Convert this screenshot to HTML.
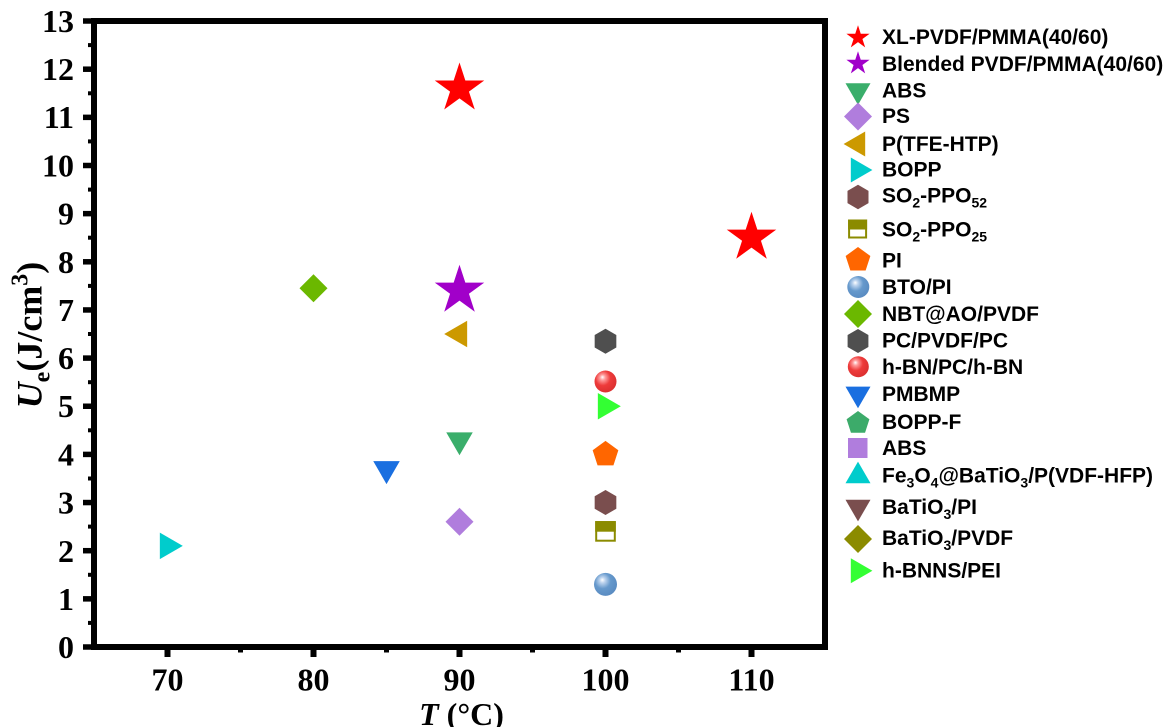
<!DOCTYPE html>
<html><head><meta charset="utf-8"><style>
html,body{margin:0;padding:0;background:#fff;}
svg{display:block;}
.ax{font-family:"Liberation Serif",serif;font-weight:bold;fill:#000;}
.lg{font-family:"Liberation Sans",Arial,sans-serif;font-weight:bold;font-size:21px;fill:#000;}
</style></head><body>
<svg width="1163" height="727" viewBox="0 0 1163 727" xmlns="http://www.w3.org/2000/svg">
<defs>
<radialGradient id="gr" cx="0.4" cy="0.38" r="0.62" fx="0.36" fy="0.3">
<stop offset="0" stop-color="#ffffff"/><stop offset="0.2" stop-color="#ff9c9c"/><stop offset="0.55" stop-color="#ee3b3b"/><stop offset="1" stop-color="#dc3030"/>
</radialGradient>
<radialGradient id="gb" cx="0.4" cy="0.38" r="0.62" fx="0.36" fy="0.3">
<stop offset="0" stop-color="#ffffff"/><stop offset="0.2" stop-color="#bcd3ee"/><stop offset="0.55" stop-color="#6699cc"/><stop offset="1" stop-color="#5a8cc2"/>
</radialGradient>
</defs>

<!-- ticks left -->
<g stroke="#000" stroke-width="5.5">
<line x1="83" y1="647" x2="92" y2="647"/><line x1="83" y1="598.85" x2="92" y2="598.85"/>
<line x1="83" y1="550.7" x2="92" y2="550.7"/><line x1="83" y1="502.55" x2="92" y2="502.55"/>
<line x1="83" y1="454.4" x2="92" y2="454.4"/><line x1="83" y1="406.25" x2="92" y2="406.25"/>
<line x1="83" y1="358.1" x2="92" y2="358.1"/><line x1="83" y1="309.95" x2="92" y2="309.95"/>
<line x1="83" y1="261.8" x2="92" y2="261.8"/><line x1="83" y1="213.65" x2="92" y2="213.65"/>
<line x1="83" y1="165.5" x2="92" y2="165.5"/><line x1="83" y1="117.35" x2="92" y2="117.35"/>
<line x1="83" y1="69.2" x2="92" y2="69.2"/><line x1="83" y1="21" x2="92" y2="21"/>
</g>
<g stroke="#000" stroke-width="4">
<line x1="88" y1="622.9" x2="92" y2="622.9"/><line x1="88" y1="574.8" x2="92" y2="574.8"/>
<line x1="88" y1="526.6" x2="92" y2="526.6"/><line x1="88" y1="478.5" x2="92" y2="478.5"/>
<line x1="88" y1="430.3" x2="92" y2="430.3"/><line x1="88" y1="382.2" x2="92" y2="382.2"/>
<line x1="88" y1="334" x2="92" y2="334"/><line x1="88" y1="285.9" x2="92" y2="285.9"/>
<line x1="88" y1="237.7" x2="92" y2="237.7"/><line x1="88" y1="189.6" x2="92" y2="189.6"/>
<line x1="88" y1="141.4" x2="92" y2="141.4"/><line x1="88" y1="93.3" x2="92" y2="93.3"/>
<line x1="88" y1="45.1" x2="92" y2="45.1"/>
</g>
<!-- ticks bottom -->
<g stroke="#000" stroke-width="6">
<line x1="167.5" y1="648" x2="167.5" y2="657"/><line x1="313.5" y1="648" x2="313.5" y2="657"/>
<line x1="459.5" y1="648" x2="459.5" y2="657"/><line x1="605.5" y1="648" x2="605.5" y2="657"/>
<line x1="751.5" y1="648" x2="751.5" y2="657"/>
</g>
<g stroke="#000" stroke-width="5">
<line x1="240.5" y1="648" x2="240.5" y2="652.5"/><line x1="386.5" y1="648" x2="386.5" y2="652.5"/>
<line x1="532.5" y1="648" x2="532.5" y2="652.5"/><line x1="678.5" y1="648" x2="678.5" y2="652.5"/>
</g>
<!-- spines -->
<rect x="94" y="21" width="731" height="626" fill="none" stroke="#000" stroke-width="6"/>

<!-- y tick labels -->
<g class="ax" font-size="32" text-anchor="end">
<text x="74" y="658">0</text><text x="74" y="610">1</text><text x="74" y="562">2</text>
<text x="74" y="513.5">3</text><text x="74" y="465.5">4</text><text x="74" y="417">5</text>
<text x="74" y="369">6</text><text x="74" y="321">7</text><text x="74" y="273">8</text>
<text x="74" y="224.5">9</text><text x="74" y="176.5">10</text><text x="74" y="128">11</text>
<text x="74" y="80">12</text><text x="74" y="32">13</text>
</g>
<!-- x tick labels -->
<g class="ax" font-size="32" text-anchor="middle">
<text x="167.5" y="690.5">70</text><text x="313.5" y="690.5">80</text><text x="459.5" y="690.5">90</text>
<text x="605.5" y="690.5">100</text><text x="751.5" y="690.5">110</text>
</g>
<!-- axis titles -->
<text class="ax" font-size="32" text-anchor="middle" x="461.5" y="725"><tspan font-style="italic">T</tspan> (°C)</text>
<text class="ax" font-size="36" text-anchor="middle" transform="translate(41.5,335) rotate(-90)"><tspan font-style="italic">U</tspan><tspan font-size="24" dy="8">e</tspan><tspan dy="-8">(J/cm</tspan><tspan font-size="24" dy="-14">3</tspan><tspan dy="14">)</tspan></text>

<!-- data markers -->
<!-- stars -->
<path transform="translate(459.5,88.5)" fill="#ff0000" d="M0,-26 L5.84,-8.03 L24.73,-8.03 L9.44,3.07 L15.29,21.03 L0,9.93 L-15.29,21.03 L-9.44,3.07 L-24.73,-8.03 L-5.84,-8.03Z"/>
<path transform="translate(751.5,237.7)" fill="#ff0000" d="M0,-26 L5.84,-8.03 L24.73,-8.03 L9.44,3.07 L15.29,21.03 L0,9.93 L-15.29,21.03 L-9.44,3.07 L-24.73,-8.03 L-5.84,-8.03Z"/>
<path transform="translate(459.5,290.7)" fill="#a100c9" d="M0,-26 L5.84,-8.03 L24.73,-8.03 L9.44,3.07 L15.29,21.03 L0,9.93 L-15.29,21.03 L-9.44,3.07 L-24.73,-8.03 L-5.84,-8.03Z"/>
<!-- NBT diamond -->
<path transform="translate(313.5,288.3)" fill="#6bb800" d="M0,-14 L14,0 L0,14 L-14,0Z"/>
<!-- P(TFE-HTP) left tri -->
<path transform="translate(459.5,334)" fill="#cc9900" d="M-15.3,0 L7.65,-13.25 L7.65,13.25Z"/>
<!-- ABS green down tri -->
<path transform="translate(459.5,440)" fill="#3aae6b" d="M-13.25,-7.65 L13.25,-7.65 L0,15.3Z"/>
<!-- PMBMP -->
<path transform="translate(386.5,468.8)" fill="#1a6fe0" d="M-13.25,-7.65 L13.25,-7.65 L0,15.3Z"/>
<!-- PS diamond -->
<path transform="translate(459.5,521.8)" fill="#b07ddd" d="M0,-14 L14,0 L0,14 L-14,0Z"/>
<!-- BOPP right tri -->
<path transform="translate(167.5,545.9)" fill="#00cccc" d="M15.3,0 L-7.65,-13.25 L-7.65,13.25Z"/>
<!-- column 100 -->
<path transform="translate(605.5,341.2)" fill="#4f4f4f" d="M0,-12.5 L10.83,-6.25 L10.83,6.25 L0,12.5 L-10.83,6.25 L-10.83,-6.25Z"/>
<circle cx="605.5" cy="381.5" r="11" fill="url(#gr)"/>
<path transform="translate(605.5,406.2)" fill="#33ff33" d="M15.3,0 L-7.65,-13.25 L-7.65,13.25Z"/>
<path transform="translate(605.5,454.4)" fill="#ff6600" d="M0,-13.5 L12.84,-4.17 L7.94,10.92 L-7.94,10.92 L-12.84,-4.17Z"/>
<path transform="translate(605.5,502.5)" fill="#7a4e4e" d="M0,-12.5 L10.83,-6.25 L10.83,6.25 L0,12.5 L-10.83,6.25 L-10.83,-6.25Z"/>
<g transform="translate(605.5,531.4)">
<rect x="-9.3" y="-9.3" width="18.6" height="18.6" fill="#fff" stroke="#8b8b00" stroke-width="2"/>
<rect x="-10.3" y="-10.3" width="20.6" height="10.6" fill="#8b8b00"/>
</g>
<circle cx="605.5" cy="584.4" r="11.5" fill="url(#gb)"/>

<!-- legend markers -->
<path transform="translate(858,37.5)" fill="#ff0000" d="M0,-12.2 L2.74,-3.77 L11.6,-3.77 L4.43,1.44 L7.17,9.87 L0,4.66 L-7.17,9.87 L-4.43,1.44 L-11.6,-3.77 L-2.74,-3.77Z"/>
<path transform="translate(858,63.5)" fill="#a100c9" d="M0,-12.2 L2.74,-3.77 L11.6,-3.77 L4.43,1.44 L7.17,9.87 L0,4.66 L-7.17,9.87 L-4.43,1.44 L-11.6,-3.77 L-2.74,-3.77Z"/>
<path transform="translate(858,90.5)" fill="#3aae6b" d="M-12.5,-7.2 L12.5,-7.2 L0,14.4Z"/>
<path transform="translate(858,116.5)" fill="#b07ddd" d="M0,-14 L14,0 L0,14 L-14,0Z"/>
<path transform="translate(858,144)" fill="#cc9900" d="M-14.4,0 L7.2,-12.5 L7.2,12.5Z"/>
<path transform="translate(858,170)" fill="#00cccc" d="M14.4,0 L-7.2,-12.5 L-7.2,12.5Z"/>
<path transform="translate(858,197)" fill="#7a4e4e" d="M0,-12.2 L10.5,-6.1 L10.5,6.1 L0,12.2 L-10.5,6.1 L-10.5,-6.1Z"/>
<g transform="translate(857.6,229)">
<rect x="-8.5" y="-8.5" width="17" height="17" fill="#fff" stroke="#8b8b00" stroke-width="2"/>
<rect x="-9.5" y="-9.5" width="19" height="10" fill="#8b8b00"/>
</g>
<path transform="translate(858,260)" fill="#ff6600" d="M0,-13 L12.36,-4.02 L7.64,10.52 L-7.64,10.52 L-12.36,-4.02Z"/>
<circle cx="858.3" cy="287" r="11" fill="url(#gb)"/>
<path transform="translate(858,314)" fill="#6bb800" d="M0,-14 L14,0 L0,14 L-14,0Z"/>
<path transform="translate(858,341)" fill="#4f4f4f" d="M0,-12 L10.4,-6 L10.4,6 L0,12 L-10.4,6 L-10.4,-6Z"/>
<circle cx="858.3" cy="366.7" r="10.5" fill="url(#gr)"/>
<path transform="translate(858,393.8)" fill="#1a6fe0" d="M-12.5,-7.2 L12.5,-7.2 L0,14.4Z"/>
<path transform="translate(858,423)" fill="#3cab6a" d="M0,-12 L11.4,-3.7 L7.05,9.7 L-7.05,9.7 L-11.4,-3.7Z"/>
<rect x="848" y="438" width="19.5" height="20" fill="#b07ddd"/>
<path transform="translate(858,476)" fill="#00cccc" d="M0,-14.4 L12.5,7.2 L-12.5,7.2Z"/>
<path transform="translate(858,507)" fill="#7a4e4e" d="M-12.5,-7.2 L12.5,-7.2 L0,14.4Z"/>
<path transform="translate(858,539)" fill="#8b8b00" d="M0,-14 L14,0 L0,14 L-14,0Z"/>
<path transform="translate(858,570.8)" fill="#33ff33" d="M14.4,0 L-7.2,-12.5 L-7.2,12.5Z"/>

<!-- legend text -->
<g class="lg">
<text x="882" y="44.2">XL-PVDF/PMMA(40/60)</text>
<text x="882" y="70.8">Blended PVDF/PMMA(40/60)</text>
<text x="882" y="97.5">ABS</text>
<text x="882" y="123.2">PS</text>
<text x="882" y="150.8">P(TFE-HTP)</text>
<text x="882" y="176.5">BOPP</text>
<text x="882" y="202.5">SO<tspan font-size="14" dy="5">2</tspan><tspan dy="-5">-PPO</tspan><tspan font-size="14" dy="5">52</tspan></text>
<text x="882" y="236.5">SO<tspan font-size="14" dy="5">2</tspan><tspan dy="-5">-PPO</tspan><tspan font-size="14" dy="5">25</tspan></text>
<text x="882" y="267.5">PI</text>
<text x="882" y="294.2">BTO/PI</text>
<text x="882" y="320.8">NBT@AO/PVDF</text>
<text x="882" y="347.5">PC/PVDF/PC</text>
<text x="882" y="374.2">h-BN/PC/h-BN</text>
<text x="882" y="400.8">PMBMP</text>
<text x="882" y="429.2">BOPP-F</text>
<text x="882" y="455.2">ABS</text>
<text x="882" y="482.5">Fe<tspan font-size="14" dy="5">3</tspan><tspan dy="-5">O</tspan><tspan font-size="14" dy="5">4</tspan><tspan dy="-5">@BaTiO</tspan><tspan font-size="14" dy="5">3</tspan><tspan dy="-5">/P(VDF-HFP)</tspan></text>
<text x="882" y="514.2">BaTiO<tspan font-size="14" dy="5">3</tspan><tspan dy="-5">/PI</tspan></text>
<text x="882" y="545.2">BaTiO<tspan font-size="14" dy="5">3</tspan><tspan dy="-5">/PVDF</tspan></text>
<text x="882" y="577.5">h-BNNS/PEI</text>
</g>
</svg>
</body></html>
